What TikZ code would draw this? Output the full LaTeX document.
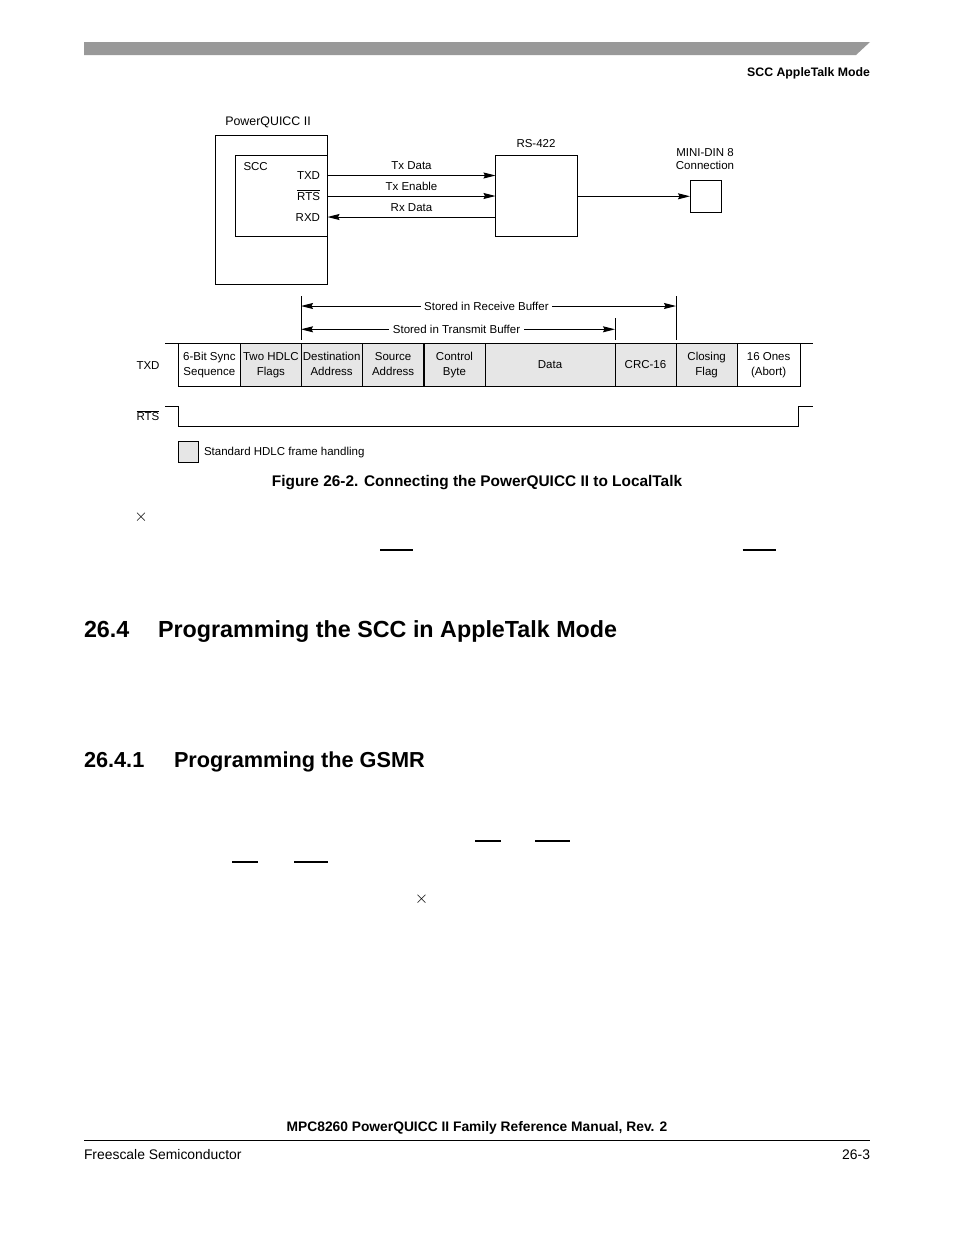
\documentclass[tikz,border=0pt]{standalone}
\usepackage{fontspec}
\setmainfont{Liberation Sans}
\usetikzlibrary{arrows.meta}
\definecolor{cellgray}{RGB}{230,230,230}
\definecolor{bargray}{RGB}{153,153,153}
\newcommand{\dfont}{\fontsize{11.5}{15}\selectfont}
\begin{document}
\begin{tikzpicture}[x=1pt,y=-1pt,
  every node/.style={inner sep=0pt, outer sep=0pt},
  lbl/.style={font=\dfont, text height=8.2pt, text depth=0pt},
  box/.style={draw, line width=1pt, anchor=north west, inner sep=0pt},
  cell/.style={draw, line width=1pt, anchor=north west, minimum height=43pt, font=\dfont, align=center, fill=cellgray},
  wcell/.style={cell, fill=white},
  arr/.style={line width=1pt, -{Stealth[length=12pt,width=6pt,inset=1.5pt]}},
  darr/.style={line width=1pt, {Stealth[length=12pt,width=6pt,inset=1.5pt]}-{Stealth[length=12pt,width=6pt,inset=1.5pt]}},
  thin/.style={line width=1pt},
  bar/.style={line width=1.3pt}
]
\useasboundingbox (0,0) rectangle (954,1235);
\fill[white] (0,0) rectangle (954,1235);

% page header
\fill[bargray] (84,42) -- (870,42) -- (856,55) -- (84,55) -- cycle;
\node[font=\fontsize{12.3}{14}\selectfont\bfseries, text height=8.8pt, text depth=0pt, anchor=east] (hdr) at (870,72) {SCC AppleTalk Mode};

% block diagram
\node[font=\fontsize{12.4}{14}\selectfont, text height=8.9pt, text depth=0pt] (pqlbl) at (268,121) {PowerQUICC II};
\node[box, minimum width=112pt, minimum height=149pt] (pq) at (215.5,135.5) {};
\node[box, minimum width=92pt, minimum height=81pt] (scc) at (235.5,155.5) {};
\node[lbl, anchor=west] (scclbl) at (243.5,166.5) {SCC};
\node[lbl, anchor=east] (txd) at (320,175.5) {TXD};
\node[lbl, anchor=east] (rts) at (320,196) {$\overline{\hbox{\dfont RTS}}$};
\node[lbl, anchor=east] (rxd) at (320,217) {RXD};

\node[box, minimum width=82pt, minimum height=81pt] (rs) at (495.5,155.5) {};
\node[lbl] (rslbl) at (536,143.5) {RS-422};

\node[box, minimum width=31pt, minimum height=32pt] (din) at (690,180.3) {};
\node[lbl] (dinlbl1) at (705,152) {MINI-DIN 8};
\node[lbl] (dinlbl2) at (705,165.5) {Connection};

\draw[arr] (scc.east |- txd) -- (rs.west |- txd) node[lbl, midway, yshift=9.8pt] (txdata) {Tx Data};
\draw[arr] (scc.east |- rts) -- (rs.west |- rts) node[lbl, midway, yshift=9.8pt] (txen) {Tx Enable};
\draw[arr] (rs.west |- rxd) -- (scc.east |- rxd) node[lbl, midway, yshift=9.8pt] (rxdata) {Rx Data};
\draw[arr] (rs.east |- din.west) -- (din.west);

% buffer markers
\coordinate (m1t) at (301,296); \coordinate (m1b) at (301,339.5);
\coordinate (m2t) at (676,296); \coordinate (m2b) at (676,339.5);
\coordinate (m3t) at (615,318); \coordinate (m3b) at (615,339.5);
\draw[thin] (m1t) -- (m1b);
\draw[thin] (m2t) -- (m2b);
\draw[thin] (m3t) -- (m3b);
\coordinate (rb1) at (301,306); \coordinate (rb2) at (676,306);
\coordinate (tb1) at (301,329.3); \coordinate (tb2) at (615,329.3);
\draw[darr] (rb1) -- (rb2);
\draw[darr] (tb1) -- (tb2);
\node[lbl, fill=white, inner xsep=3.5pt] (rbuf) at (486.4,306) {Stored in Receive Buffer};
\node[lbl, fill=white, inner xsep=3.5pt] (tbuf) at (456.5,329) {Stored in Transmit Buffer};

% frame
\node[lbl] (txdf) at (148,365.5) {TXD};
\coordinate (ftl) at (165,343.5); \coordinate (ftr) at (813,343.5);
\node[wcell, minimum width=62.7pt] (c1) at (178,343.5) {\strut 6-Bit Sync\\Sequence\strut};
\node[cell, minimum width=60.3pt] (c2) at (240.7,343.5) {\strut Two HDLC\\Flags\strut};
\node[cell, minimum width=61.3pt] (c3) at (301,343.5) {\strut Destination\\Address\strut};
\node[cell, minimum width=61.7pt] (c4) at (362.3,343.5) {\strut Source\\Address\strut};
\node[cell, minimum width=61pt] (c5) at (424,343.5) {\strut Control\\Byte\strut};
\node[cell, minimum width=130pt] (c6) at (485,343.5) {\strut Data};
\node[cell, minimum width=61pt] (c7) at (615,343.5) {\strut CRC-16};
\node[cell, minimum width=61.3pt] (c8) at (676,343.5) {\strut Closing\\Flag\strut};
\node[wcell, minimum width=62.7pt] (c9) at (737.3,343.5) {\strut 16 Ones\\(Abort)\strut};
\draw[line width=1.6pt] (c5.north west) -- (c5.south west);
\draw[thin] (ftl) -- (c1.north west);
\draw[thin] (c9.north east) -- (ftr);

% RTS waveform
\node[lbl] (rtsf) at (148,416.5) {$\overline{\hbox{\dfont RTS}}$};
\draw[thin] (165,406.7) -- (178.3,406.7) -- (178.3,426.7) -- (798.7,426.7) -- (798.7,406.7) -- (813,406.7);

% legend
\node[box, fill=cellgray, minimum width=20pt, minimum height=21pt] (leg) at (178,441) {};
\node[lbl, anchor=west] (leglbl) at (204,451.5) {Standard HDLC frame handling};

% caption
\node[font=\fontsize{15.4}{17}\selectfont\bfseries, text height=11pt, text depth=0pt] (cap) at (477,480.5) {Figure 26-2. Connecting the PowerQUICC II to LocalTalk};

% stray marks
\node[font=\fontsize{17}{20}\selectfont] (x1) at (141,517) {$\times$};
\node[font=\fontsize{17}{20}\selectfont] (x2) at (421.5,899) {$\times$};
\draw[bar] (380,550) -- (412.7,550);
\draw[bar] (742.7,550) -- (776,550);
\draw[bar] (475,841) -- (501,841);
\draw[bar] (535,841) -- (570,841);
\draw[bar] (232,862) -- (258,862);
\draw[bar] (294,862) -- (328,862);

% headings
\node[font=\fontsize{23.3}{26}\selectfont\bfseries, text height=16.7pt, text depth=0pt, anchor=west] (h1n) at (84,629.5) {26.4};
\node[font=\fontsize{23.3}{26}\selectfont\bfseries, text height=16.7pt, text depth=0pt, anchor=west] (h1t) at (158,629.5) {Programming the SCC in AppleTalk Mode};
\node[font=\fontsize{21.7}{24}\selectfont\bfseries, text height=15.5pt, text depth=0pt, anchor=west] (h2n) at (84,760) {26.4.1};
\node[font=\fontsize{21.7}{24}\selectfont\bfseries, text height=15.5pt, text depth=0pt, anchor=west] (h2t) at (174,760) {Programming the GSMR};

% footer
\node[font=\fontsize{13.8}{16}\selectfont\bfseries, text height=9.9pt, text depth=0pt] (ftitle) at (477,1126.5) {MPC8260 PowerQUICC II Family Reference Manual, Rev. 2};
\draw[line width=1pt] (84,1140) -- (870,1140);
\node[font=\fontsize{13.9}{16}\selectfont, text height=9.9pt, text depth=0pt, anchor=west] (fl) at (84,1154.5) {Freescale Semiconductor};
\node[font=\fontsize{13.9}{16}\selectfont, text height=9.9pt, text depth=0pt, anchor=east] (fr) at (870,1154.5) {26-3};
\end{tikzpicture}
\end{document}
